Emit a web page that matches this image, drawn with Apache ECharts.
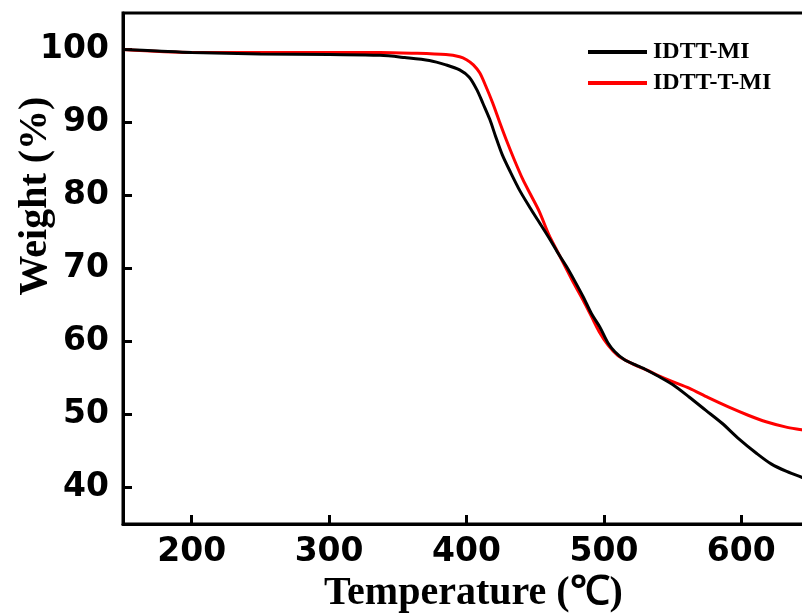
<!DOCTYPE html>
<html>
<head>
<meta charset="utf-8">
<script src="https://cdn.jsdelivr.net/npm/echarts@6/dist/echarts.min.js"></script>
<style>html,body{margin:0;padding:0;background:#fff;}#c{width:802px;height:614px;}</style>
</head>
<body>
<div id="c"></div>
<script>
const xTicks = [200, 300, 400, 500, 600];
const yTicks = [40, 50, 60, 70, 80, 90, 100];
const seriesNames = ['IDTT-MI', 'IDTT-T-MI'];
const xTitle = 'Temperature (℃)';
const yTitle = 'Weight (%)';
const tempMI = [150,175,200,250,300,337,355,373,385,395,402,407.5,412,417,421,426,432,439,446,452,460,466,473,479,485,491,497,503,508,515,523,531,540,550,562,574,586,598,611,622,633,644,650];
const weightMI = [100,99.8,99.6,99.4,99.3,99.2,98.9,98.5,97.9,97.2,96.2,94.5,92.6,90.4,88.2,85.6,83.2,80.6,78.4,76.6,74.2,72.3,70.2,68.2,66.1,63.8,62,59.8,58.6,57.5,56.8,56.1,55.2,54.1,52.4,50.6,48.8,46.7,44.7,43.2,42.2,41.4,41.0];
const tempTMI = [150,200,250,300,337,360,385,395,400,405,409.6,414,419,424,429,435,441,447,453,460,466,472,478,485,491,497,503,510,518,526,531,540,550,562,576,591,605,618,632,644,650];
const weightTMI = [100,99.6,99.6,99.6,99.6,99.5,99.3,99.0,98.6,97.9,96.8,95,92.7,90.1,87.6,84.8,82.2,80,77.8,74.6,72.4,70.2,68.0,65.6,63.4,61.2,59.5,58.1,57.2,56.5,56.1,55.3,54.5,53.6,52.3,51.0,49.9,49.0,48.3,47.9,47.7];

const pair = (xs, ys) => xs.map((x, i) => [x, ys[i]]);
const chart = echarts.init(document.getElementById('c'), null, {renderer: 'canvas'});
chart.setOption({
  animation: false,
  backgroundColor: '#fff',
  grid: {left: 123, right: -8, top: 13, bottom: 90, containLabel: false, outerBoundsMode: 'none',
         show: true, borderColor: '#000', borderWidth: 3, backgroundColor: 'transparent'},
  legend: {
    orient: 'vertical', left: 588, top: 40, padding: 0, itemWidth: 59, itemHeight: 4, itemGap: 7, icon: 'rect',
    textStyle: {fontFamily: 'Liberation Serif', fontWeight: 'bold', fontSize: 24, color: '#000', padding: [0,0,0,1]},
    data: seriesNames
  },
  graphic: [{
    type: 'text', x: 36, y: 196, rotation: Math.PI / 2,
    style: {text: yTitle, fill: '#000', font: 'bold 40px "Liberation Serif"', textAlign: 'center', textVerticalAlign: 'middle'}
  }],
  xAxis: {
    type: 'value', min: 150, max: 650,
    name: xTitle, nameLocation: 'middle', nameGap: 50,
    nameTextStyle: {fontFamily: 'Liberation Serif', fontWeight: 'bold', fontSize: 40, color: '#000', padding: [0,0,0,14]},
    axisLine: {show: true, lineStyle: {color: '#000', width: 3}},
    axisTick: {show: true, inside: true, length: 9, lineStyle: {color: '#000', width: 3}, customValues: xTicks},
    axisLabel: {customValues: xTicks, margin: 12, fontFamily: 'DejaVu Sans', fontWeight: 'bold', fontSize: 33, color: '#000'},
    splitLine: {show: false}
  },
  yAxis: {
    type: 'value', min: 35, max: 105,
    axisLine: {show: true, lineStyle: {color: '#000', width: 3}},
    axisTick: {show: true, inside: true, length: 9, lineStyle: {color: '#000', width: 3}, customValues: yTicks},
    axisLabel: {customValues: yTicks, margin: 14, fontFamily: 'DejaVu Sans', fontWeight: 'bold', fontSize: 33, color: '#000'},
    splitLine: {show: false}
  },
  series: [
    {name: seriesNames[0], type: 'line', data: pair(tempMI, weightMI), smooth: 0.3, showSymbol: false, lineStyle: {color: '#000', width: 3}, itemStyle: {color: '#000'}, z: 3},
    {name: seriesNames[1], type: 'line', data: pair(tempTMI, weightTMI), smooth: 0.3, showSymbol: false, lineStyle: {color: '#ff0000', width: 3}, itemStyle: {color: '#ff0000'}, z: 2}
  ]
});
</script>
</body>
</html>
